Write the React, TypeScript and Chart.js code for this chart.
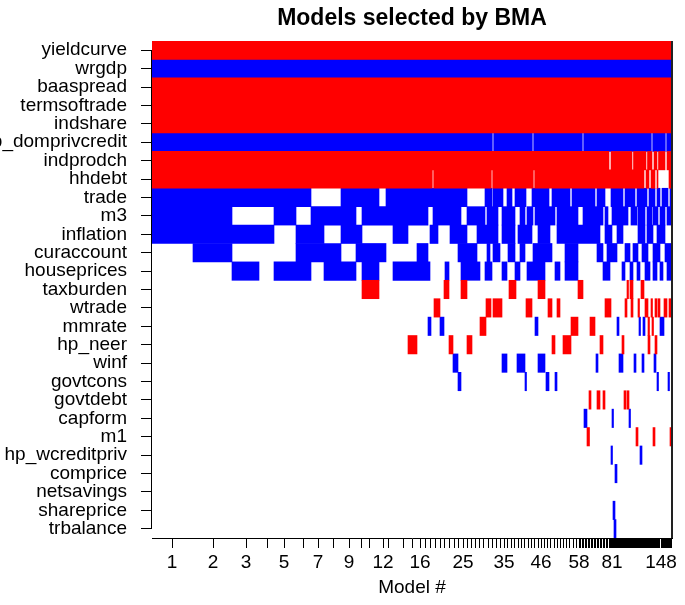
import React, { useEffect, useRef } from "react";
import { Chart, registerables } from "chart.js";

Chart.register(...registerables);

// [start, end] on the cumulative posterior-model-mass axis, sign: +1 positive (blue), -1 negative (red)
type Seg = [number, number, number];

const variables = [
  "yieldcurve", "wrgdp", "baaspread", "termsoftrade", "indshare", "hp_domprivcredit",
  "indprodch", "hhdebt", "trade", "m3", "inflation", "curaccount", "houseprices",
  "taxburden", "wtrade", "mmrate", "hp_neer", "winf", "govtcons", "govtdebt", "capform",
  "m1", "hp_wcreditpriv", "comprice", "netsavings", "shareprice", "trbalance",
];

const totalMass = 520;

const yieldcurve: Seg[] = [[0, 520, -1]];
const wrgdp: Seg[] = [[0, 520, 1]];
const baaspread: Seg[] = [[0, 520, -1]];
const termsoftrade: Seg[] = [[0, 520, -1]];
const indshare: Seg[] = [[0, 520, -1]];
const hp_domprivcredit: Seg[] = [
  [0, 340.3, 1], [341.7, 380.3, 1], [381.7, 430.3, 1], [431.7, 499.3, 1], [500.7, 513.3, 1], [514.7, 520, 1],
];
const indprodch: Seg[] = [
  [0, 457, -1], [459, 480, -1], [481.5, 494, -1], [495.5, 500, -1], [502, 505, -1], [506.5, 513, -1], [515, 520, -1],
];
const hhdebt: Seg[] = [
  [0, 280.3, -1], [281.7, 339.3, -1], [340.7, 381.3, -1], [382.7, 492, -1], [494, 497, -1], [499, 503, -1],
  [505, 506, -1], [517, 520, -1],
];
const trade: Seg[] = [
  [0, 159, 1], [189, 227, 1], [234, 315, 1], [333, 340, 1], [341, 351, 1], [355, 360, 1], [363, 374, 1],
  [380, 397, 1], [400, 418, 1], [420, 443, 1], [445, 453, 1], [459, 471, 1], [473, 483, 1], [485, 495, 1],
  [497, 503, 1], [505, 508, 1], [510, 516, 1], [518, 520, 1],
];
const m3: Seg[] = [
  [0, 80, 1], [122, 144, 1], [159, 204, 1], [210, 276, 1], [281, 309, 1], [315, 333, 1], [335, 346, 1],
  [350, 363, 1], [368, 373, 1], [375, 381, 1], [383, 403, 1], [405, 426, 1], [431, 451, 1], [453, 456, 1],
  [460, 476, 1], [479, 485, 1], [486, 493, 1], [495, 500, 1], [501, 506, 1], [508, 513, 1], [515, 520, 1],
];
const inflation: Seg[] = [
  [0, 122, 1], [144, 172, 1], [189, 210, 1], [241, 256, 1], [278, 286, 1], [298, 315, 1], [325, 346, 1],
  [350, 363, 1], [366, 380, 1], [386, 398, 1], [405, 448, 1], [453, 460, 1], [465, 471, 1], [486, 493, 1],
  [495, 501, 1], [505, 513, 1],
];
const curaccount: Seg[] = [
  [41, 80, 1], [144, 189, 1], [204, 234, 1], [265, 276, 1], [306, 325, 1], [335, 338, 1], [341, 348, 1],
  [356, 363, 1], [368, 373, 1], [381, 400, 1], [413, 426, 1], [445, 451, 1], [455, 465, 1], [473, 478, 1],
  [481, 486, 1], [490, 496, 1], [501, 508, 1], [513, 520, 1],
];
const houseprices: Seg[] = [
  [80, 107, 1], [122, 159, 1], [172, 204, 1], [210, 227, 1], [241, 278, 1], [293, 297, 1], [309, 328, 1],
  [333, 340, 1], [350, 355, 1], [363, 368, 1], [375, 393, 1], [403, 408, 1], [413, 426, 1], [451, 458, 1],
  [470, 473, 1], [478, 481, 1], [485, 488, 1], [493, 498, 1], [501, 505, 1], [508, 511, 1], [515, 520, 1],
];
const taxburden: Seg[] = [
  [210, 227, -1], [292, 297, -1], [309, 315, -1], [357, 364, -1], [386, 393, -1], [426, 431, -1],
  [475, 476.5, -1], [478, 481, -1], [489, 492, -1],
];
const wtrade: Seg[] = [
  [282, 288, -1], [334, 339, -1], [341, 350, -1], [374, 380, -1], [396, 400, -1], [405, 408, -1],
  [453, 459, -1], [473, 475, -1], [479, 481, -1], [486, 487.5, -1], [493, 496, -1], [499, 500.5, -1],
  [503, 505, -1], [506, 508, -1], [512, 515, -1], [517, 520, -1],
];
const mmrate: Seg[] = [
  [276, 279, 1], [288, 292, 1], [328, 334, -1], [383, 386, 1], [419, 426, -1], [438, 443, -1], [465, 467, 1],
  [487, 488.5, 1], [491, 493, 1], [496, 497.5, -1], [500, 501.5, -1], [508, 512, 1],
];
const hp_neer: Seg[] = [
  [256, 265, -1], [297, 301, -1], [315, 320, -1], [400, 403, -1], [411, 419, -1], [448, 451, -1],
  [470, 472, -1], [496, 498, -1], [503, 505, -1],
];
const winf: Seg[] = [
  [301, 306, 1], [350, 355, 1], [365, 373, 1], [386, 393, 1], [444, 446, 1], [467, 471, 1], [482, 484, 1],
  [490, 492, 1], [502, 504, 1],
];
const govtcons: Seg[] = [
  [306, 309, 1], [373, 374.5, 1], [394, 397, 1], [403, 405, 1], [505, 506.5, 1], [516, 517.5, 1],
];
const govtdebt: Seg[] = [[437, 439, -1], [445, 448, -1], [451, 453, -1], [472, 474, -1], [475, 477, -1]];
const capform: Seg[] = [[432, 435, 1], [460, 461.5, 1], [477, 478.5, 1]];
const m1: Seg[] = [[435, 437.5, -1], [484, 486, -1], [501, 503, -1], [518, 520, -1]];
const hp_wcreditpriv: Seg[] = [[459, 460.5, 1], [488, 490, 1]];
const comprice: Seg[] = [[463, 465, 1]];
const netsavings: Seg[] = [];
const shareprice: Seg[] = [[461, 463, 1]];
const trbalance: Seg[] = [[462, 464, 1]];

const rows: Seg[][] = [
  yieldcurve, wrgdp, baaspread, termsoftrade, indshare, hp_domprivcredit, indprodch, hhdebt, trade, m3,
  inflation, curaccount, houseprices, taxburden, wtrade, mmrate, hp_neer, winf, govtcons, govtdebt, capform,
  m1, hp_wcreditpriv, comprice, netsavings, shareprice, trbalance,
];

// centre of each model (by rank) on the cumulative-mass axis
const modelMass = [
  20, 61, 94, 115, 132, 151, 166, 181, 197, 209, 217, 231, 236, 251, 260, 268,
  273, 278, 283, 288, 292, 297, 302, 306, 311,
  315, 319, 323, 327, 331, 336, 340, 344, 348, 352,
  355, 359, 362, 366, 369, 372, 376, 379, 382, 386, 389,
  392, 395, 398, 402, 405, 408, 411, 414, 417, 421, 424, 427,
  428.5, 430, 431.5, 433, 434.5, 436, 437.5, 439, 440.5, 442, 443.5, 445, 446.5, 448, 449.5, 451, 452.5,
  454, 455.5, 457, 458, 459, 460,
  460.7, 461.4, 462.1, 462.9, 463.6, 464.3, 465.0, 465.8, 466.5, 467.2,
  467.9, 468.7, 469.4, 470.1, 470.8, 471.6, 472.3, 473.0, 473.7, 474.5,
  475.2, 475.9, 476.6, 477.4, 478.1, 478.8, 479.5, 480.3, 481.0, 481.7,
  482.4, 483.2, 483.9, 484.6, 485.3, 486.1, 486.8, 487.5, 488.2, 489.0,
  489.7, 490.4, 491.1, 491.9, 492.6, 493.3, 494.0, 494.8, 495.5, 496.2,
  496.9, 497.7, 498.4, 499.1, 499.8, 500.6, 501.3, 502.0, 502.7, 503.5,
  504.2, 504.9, 505.6, 506.4, 507.1, 507.8, 509.0,
  509.7, 510.4, 511.1, 511.8, 512.5, 513.2, 513.9, 514.6, 515.3, 516.0, 516.7, 517.4, 518.1, 518.8, 519.5,
];
const labeledModels = [1, 2, 3, 5, 7, 9, 12, 16, 25, 35, 46, 58, 81, 148];

const FONT = "'Liberation Sans', Arial, Helvetica, sans-serif";

const frameLines = {
  id: "frameLines",
  afterDatasetsDraw(chart: any) {
    const { ctx, chartArea } = chart;
    const y = chart.scales.y;
    ctx.save();
    ctx.strokeStyle = "#000";
    ctx.lineWidth = 1;
    ctx.beginPath();
    ctx.moveTo(chartArea.left - 0.5, y.getPixelForTick(0));
    ctx.lineTo(chartArea.left - 0.5, y.getPixelForTick(variables.length - 1));
    ctx.stroke();
    ctx.strokeStyle = "#222";
    ctx.lineWidth = 2;
    ctx.beginPath();
    ctx.moveTo(chartArea.right, chartArea.top);
    ctx.lineTo(chartArea.right, chartArea.bottom);
    ctx.stroke();
    ctx.restore();
  },
};

export default function App() {
  const ref = useRef<HTMLCanvasElement | null>(null);

  useEffect(() => {
    if (!ref.current) return;
    const posData: any[] = [];
    const negData: any[] = [];
    rows.forEach((segs, i) =>
      segs.forEach(([a, b, s]) => (s > 0 ? posData : negData).push({ x: [a, b], y: variables[i] }))
    );

    const chart = new Chart(ref.current, {
      type: "bar",
      data: {
        labels: variables,
        datasets: [
          {
            data: negData,
            backgroundColor: "#FF0000",
            borderWidth: 0,
            grouped: false,
            barPercentage: 1,
            categoryPercentage: 1,
          } as any,
          {
            data: posData,
            backgroundColor: "#0000FF",
            borderWidth: 0,
            grouped: false,
            barPercentage: 1,
            categoryPercentage: 1,
          } as any,
        ],
      },
      options: {
        indexAxis: "y",
        animation: false,
        responsive: false,
        layout: { padding: { left: 0, right: 13, top: 0, bottom: 0 } },
        plugins: {
          legend: { display: false },
          tooltip: { enabled: false },
          title: {
            display: true,
            text: "Models selected by BMA",
            fullSize: false,
            color: "#000",
            font: { family: FONT, size: 23, weight: "bold", lineHeight: 1.2 },
            padding: { top: 4.5, bottom: 8.9 },
          },
        },
        scales: {
          x: {
            type: "linear",
            min: 0,
            max: totalMass,
            afterBuildTicks: (s: any) => {
              s.ticks = modelMass.map((v) => ({ value: v }));
            },
            afterFit: (s: any) => {
              s.height = 67;
            },
            ticks: {
              autoSkip: false,
              maxRotation: 0,
              minRotation: 0,
              padding: 3,
              color: "#000",
              font: { family: FONT, size: 19 },
              callback: (_v: any, i: number) => (labeledModels.includes(i + 1) ? String(i + 1) : ""),
            },
            grid: { drawOnChartArea: false, drawTicks: true, tickLength: 10, tickColor: "#000", tickWidth: 1 },
            border: { display: true, color: "#000", width: 1 },
            title: {
              display: true,
              text: "Model #",
              color: "#000",
              font: { family: FONT, size: 19 },
              padding: { top: 0, bottom: 6 },
            },
          },
          y: {
            type: "category",
            offset: true,
            afterFit: (s: any) => {
              s.width = 152;
            },
            ticks: { autoSkip: false, padding: 14, color: "#000", font: { family: FONT, size: 19 } },
            grid: { offset: false, drawOnChartArea: false, drawTicks: true, tickLength: 11, tickColor: "#000" },
            border: { display: false },
          },
        },
      } as any,
      plugins: [frameLines],
    });
    return () => chart.destroy();
  }, []);

  return (
    <div style={{ position: "absolute", left: 0, top: 0, width: 685, height: 605, background: "#fff" }}>
      <canvas ref={ref} width={685} height={605} style={{ display: "block" }} />
    </div>
  );
}
